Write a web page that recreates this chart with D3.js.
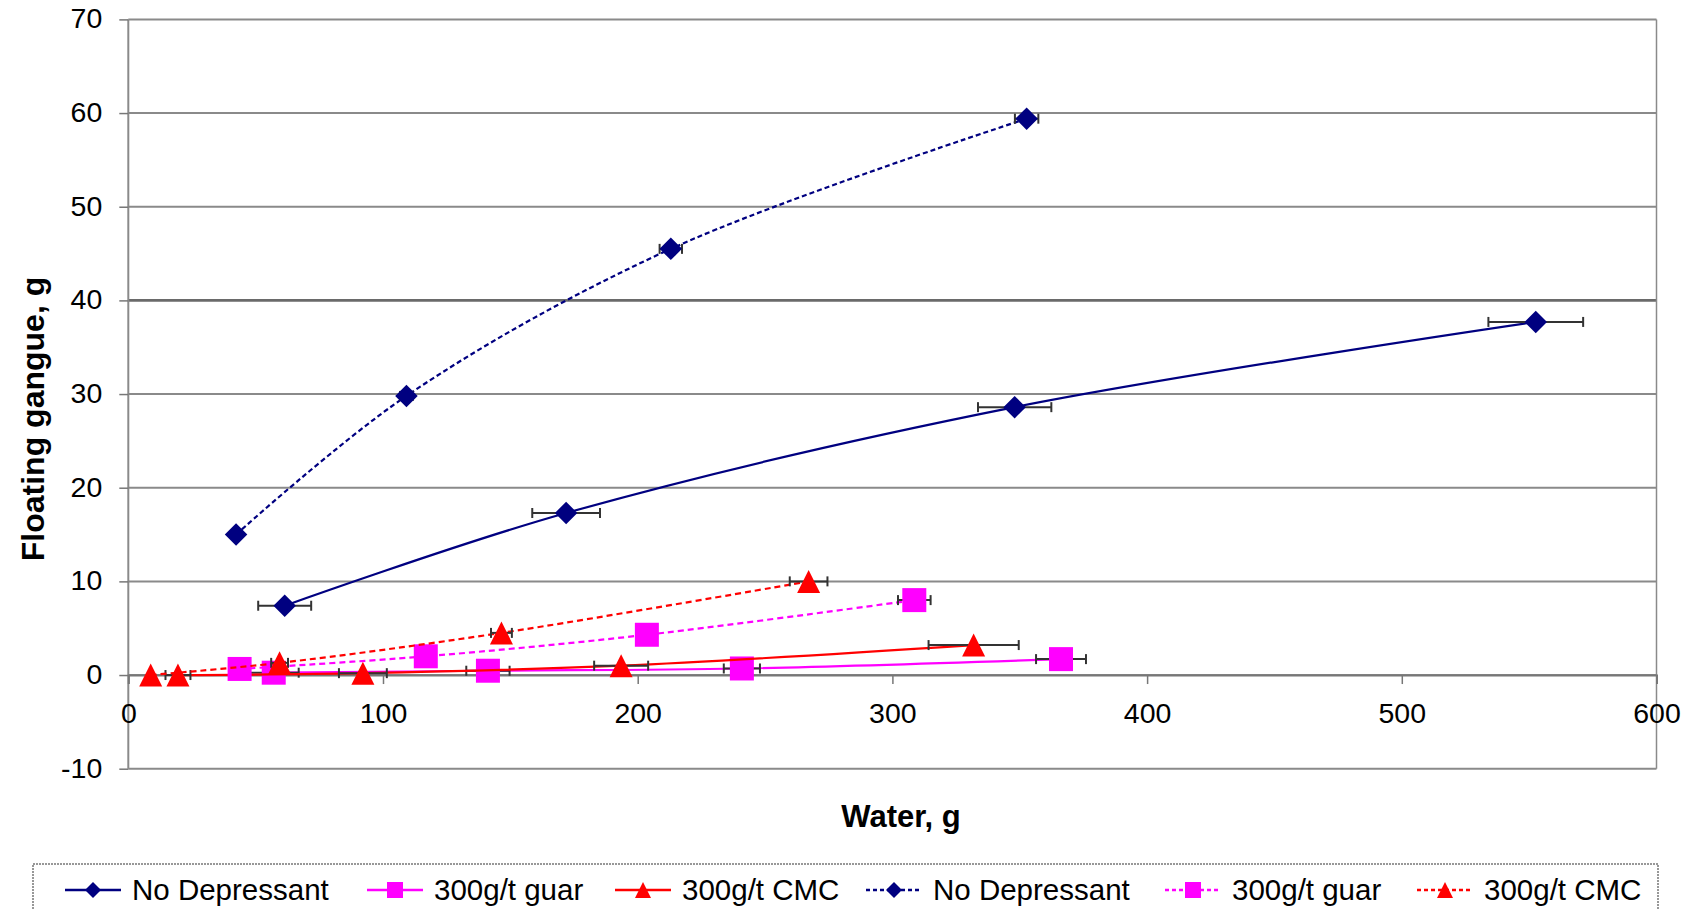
<!DOCTYPE html>
<html>
<head>
<meta charset="utf-8">
<script src="https://cdn.jsdelivr.net/npm/d3@7"></script>
<style>
  html, body { margin: 0; padding: 0; background: #fff; }
  svg { display: block; font-family: "Liberation Sans", Arial, sans-serif; }
</style>
</head>
<body>
<svg id="chart" width="1691" height="910"></svg>
<script>
// ---- data ----
const xTicks = [0, 100, 200, 300, 400, 500, 600];
const yTicks = [-10, 0, 10, 20, 30, 40, 50, 60, 70];

const ndSolidX   = [61.4, 171.9, 348.0, 552.6];
const ndSolidY   = [7.4, 17.3, 28.6, 37.7];
const ndSolidErr = [10.4, 13.3, 14.4, 18.6];

const guarSolidX   = [57.1, 141.2, 240.9, 366.2];
const guarSolidY   = [0.25, 0.46, 0.7, 1.7];
const guarSolidErr = [9.8, 8.5, 7.1, 9.8];

const cmcSolidX   = [19.5, 92.1, 193.5, 331.9];
const cmcSolidY   = [0.0, 0.2, 1.0, 3.2];
const cmcSolidErr = [4.9, 9.4, 10.6, 17.7];

const ndDashX   = [42.3, 109.2, 213.0, 352.7];
const ndDashY   = [15.0, 29.8, 45.5, 59.4];
const ndDashErr = [0, 2.5, 4.4, 4.6];

const guarDashX   = [43.7, 116.8, 203.6, 308.6];
const guarDashY   = [0.65, 2.0, 4.3, 8.0];
const guarDashErr = [0, 3.0, 4.0, 6.4];

const cmcDashX   = [8.8, 59.4, 146.5, 267.1];
const cmcDashY   = [0.0, 1.3, 4.5, 10.0];
const cmcDashErr = [0, 3.3, 4.1, 7.4];

const seriesNames = ["No Depressant", "300g/t guar", "300g/t CMC",
                     "No Depressant", "300g/t guar", "300g/t CMC"];

(function () {
// ---- build series ----
const zip = (xs, ys, es) => xs.map((x, i) => ({ x, y: ys[i], e: es[i] }));
const series = [
  { name: seriesNames[0], pts: zip(ndSolidX, ndSolidY, ndSolidErr), color: "#000080", marker: "diamond", dash: null },
  { name: seriesNames[1], pts: zip(guarSolidX, guarSolidY, guarSolidErr), color: "#FF00FF", marker: "square", dash: null },
  { name: seriesNames[2], pts: zip(cmcSolidX, cmcSolidY, cmcSolidErr), color: "#FF0000", marker: "triangle", dash: null },
  { name: seriesNames[3], pts: zip(ndDashX, ndDashY, ndDashErr), color: "#000080", marker: "diamond", dash: "5,3" },
  { name: seriesNames[4], pts: zip(guarDashX, guarDashY, guarDashErr), color: "#FF00FF", marker: "square", dash: "6,4" },
  { name: seriesNames[5], pts: zip(cmcDashX, cmcDashY, cmcDashErr), color: "#FF0000", marker: "triangle", dash: "6,4" }
];

// ---- layout ----
const svg = d3.select("#chart");
const pLeft = 128.3, pRight = 1656.5, pTop = 19.4, pBottom = 768.7;
const x = d3.scaleLinear().domain([0, 600]).range([pLeft, pRight]);
const y = d3.scaleLinear().domain([-10, 70]).range([pBottom, pTop]);

const gridColor = "#8a8a8a";
const fmt = d => String(d);

// gridlines
svg.append("g").selectAll("line").data(yTicks).join("line")
  .attr("x1", pLeft).attr("x2", pRight)
  .attr("y1", d => y(d)).attr("y2", d => y(d))
  .attr("stroke", d => d === 40 ? "#6a6a6a" : gridColor)
  .attr("stroke-width", d => d === 40 ? 2.6 : 2);

// plot border (left/right)
svg.append("line").attr("x1", pLeft).attr("x2", pLeft).attr("y1", pTop).attr("y2", pBottom)
  .attr("stroke", gridColor).attr("stroke-width", 2);
svg.append("line").attr("x1", pRight).attr("x2", pRight).attr("y1", pTop).attr("y2", pBottom)
  .attr("stroke", gridColor).attr("stroke-width", 1.5);

// y axis
const yAxis = d3.axisLeft(y).tickValues(yTicks).tickSize(9).tickPadding(17).tickFormat(fmt);
const gy = svg.append("g").attr("transform", `translate(${pLeft},0)`).call(yAxis);
gy.select(".domain").remove();
gy.selectAll(".tick line").attr("stroke", "#777").attr("stroke-width", 1.5);
gy.selectAll(".tick text").attr("font-size", 28.5).attr("fill", "#000")
  .attr("font-family", "'Liberation Sans', Arial, sans-serif").attr("dy", "0.3em");

// x axis at y=0
const xAxis = d3.axisBottom(x).tickValues(xTicks).tickSize(9).tickPadding(19).tickFormat(fmt);
const gx = svg.append("g").attr("transform", `translate(0,${y(0)})`).call(xAxis);
gx.select(".domain").attr("stroke", "#777").attr("stroke-width", 2);
gx.selectAll(".tick line").attr("stroke", "#777").attr("stroke-width", 1.5);
gx.selectAll(".tick text").attr("font-size", 28.5).attr("fill", "#000")
  .attr("font-family", "'Liberation Sans', Arial, sans-serif");

// axis titles
svg.append("text").attr("x", 901).attr("y", 827).attr("text-anchor", "middle")
  .attr("font-size", 31).attr("font-weight", "bold").text("Water, g");
svg.append("text").attr("transform", "translate(44,419) rotate(-90)").attr("text-anchor", "middle")
  .attr("font-size", 32).attr("font-weight", "bold").text("Floating gangue, g");

// markers
function markerPath(type, size) {
  const s = size / 2;
  if (type === "diamond") return `M0,${-s}L${s},0L0,${s}L${-s},0Z`;
  if (type === "square") return `M${-s},${-s}H${s}V${s}H${-s}Z`;
  return `M0,${-s}L${s},${s}L${-s},${s}Z`;
}
const markerSize = { diamond: 22.5, square: 24, triangle: 23 };

const line = d3.line().x(d => x(d.x)).y(d => y(d.y)).curve(d3.curveCatmullRom.alpha(0.5));

series.forEach(s => {
  const g = svg.append("g");
  g.append("path").datum(s.pts).attr("d", line)
    .attr("fill", "none").attr("stroke", s.color)
    .attr("stroke-width", 2.2)
    .attr("stroke-dasharray", s.dash);
  // horizontal error bars
  const eb = g.append("g").selectAll("g").data(s.pts.filter(p => p.e > 0)).join("g");
  eb.append("line")
    .attr("x1", d => x(d.x - d.e)).attr("x2", d => x(d.x + d.e))
    .attr("y1", d => y(d.y)).attr("y2", d => y(d.y))
    .attr("stroke", "#333").attr("stroke-width", 2);
  eb.append("line")
    .attr("x1", d => x(d.x - d.e)).attr("x2", d => x(d.x - d.e))
    .attr("y1", d => y(d.y) - 5).attr("y2", d => y(d.y) + 5)
    .attr("stroke", "#333").attr("stroke-width", 2);
  eb.append("line")
    .attr("x1", d => x(d.x + d.e)).attr("x2", d => x(d.x + d.e))
    .attr("y1", d => y(d.y) - 5).attr("y2", d => y(d.y) + 5)
    .attr("stroke", "#333").attr("stroke-width", 2);
  g.append("g").selectAll("path").data(s.pts).join("path")
    .attr("transform", d => `translate(${x(d.x)},${y(d.y)})`)
    .attr("d", markerPath(s.marker, markerSize[s.marker]))
    .attr("fill", s.color);
});

// legend
const lg = svg.append("g");
lg.append("rect").attr("x", 33).attr("y", 864).attr("width", 1625).attr("height", 70)
  .attr("fill", "#fff").attr("stroke", "#777").attr("stroke-width", 1.5)
  .attr("stroke-dasharray", "2,1");
const legendX = [65, 367, 615, 866, 1165, 1417];
const legendY = 890;
series.forEach((s, i) => {
  const lx = legendX[i];
  lg.append("line").attr("x1", lx).attr("x2", lx + 56).attr("y1", legendY).attr("y2", legendY)
    .attr("stroke", s.color).attr("stroke-width", 2.5)
    .attr("stroke-dasharray", s.dash ? "4,3" : null);
  lg.append("path").attr("transform", `translate(${lx + 28},${legendY})`)
    .attr("d", markerPath(s.marker, 16))
    .attr("fill", s.color);
  lg.append("text").attr("x", lx + 67).attr("y", legendY + 10)
    .attr("font-size", 29.5).attr("fill", "#000").text(s.name);
});
})();
</script>
</body>
</html>
